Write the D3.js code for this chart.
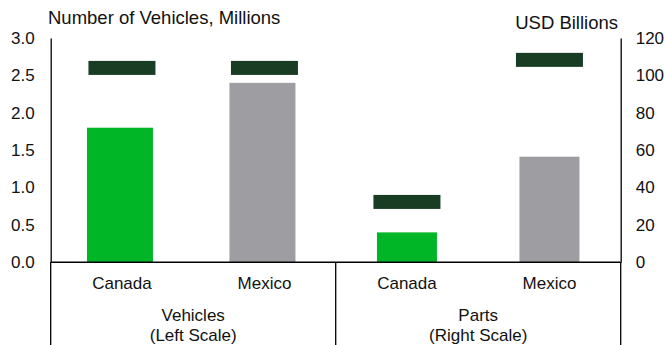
<!DOCTYPE html>
<html><head><meta charset="utf-8">
<script src="https://cdn.jsdelivr.net/npm/d3@7"></script>
<style>
html,body{margin:0;padding:0;background:#fff;}
svg{display:block;font-family:"Liberation Sans",Arial,sans-serif;}
</style></head>
<body>
<script>
// ---- data ----
const groups = ["Vehicles", "Parts"];
const groupSubLabels = ["(Left Scale)", "(Right Scale)"];
const categories = ["Canada", "Mexico", "Canada", "Mexico"];
const categoryGroup = [0, 0, 1, 1];
const barValues = [1.8, 2.4, 16, 56.5];
const markerValues = [2.6, 2.6, 32.3, 108.3];
const barColorKeys = ["canada", "mexico", "canada", "mexico"];
const leftTicks = [0, 0.5, 1.0, 1.5, 2.0, 2.5, 3.0];
const rightTicks = [0, 20, 40, 60, 80, 100, 120];
const leftTitle = "Number of Vehicles, Millions";
const rightTitle = "USD Billions";

// ---- styles ----
const W = 665, H = 345;
const x0 = 50.7, x1 = 620.7, yTop = 38, yBase = 262.3;
const colors = {canada: "#00b626", mexico: "#9e9da2", marker: "#183d23"};
const barWidthByGroup = [66, 60];
const barOffsetByGroup = [-2, 0];
const markerWidth = 67, markerThick = 14;

const svg = d3.select("body").append("svg").attr("width", W).attr("height", H);

const x = d3.scaleBand().domain(d3.range(categories.length)).range([x0, x1]).padding(0);
const yL = d3.scaleLinear().domain([0, 3]).range([yBase, yTop]);
const yR = d3.scaleLinear().domain([0, 120]).range([yBase, yTop]);
const yFor = i => categoryGroup[i] === 0 ? yL : yR;

// bars
svg.append("g").selectAll("rect").data(barValues).join("rect")
  .attr("x", (d, i) => x(i) + x.bandwidth() / 2 - barWidthByGroup[categoryGroup[i]] / 2 + barOffsetByGroup[categoryGroup[i]])
  .attr("width", (d, i) => barWidthByGroup[categoryGroup[i]])
  .attr("y", (d, i) => yFor(i)(d))
  .attr("height", (d, i) => yBase - yFor(i)(d))
  .attr("fill", (d, i) => colors[barColorKeys[i]]);

// markers
svg.append("g").selectAll("rect").data(markerValues).join("rect")
  .attr("x", (d, i) => x(i) + x.bandwidth() / 2 - markerWidth / 2)
  .attr("width", markerWidth)
  .attr("y", (d, i) => yFor(i)(d) - markerThick / 2)
  .attr("height", markerThick)
  .attr("fill", colors.marker);

// left axis
const gL = svg.append("g").attr("transform", `translate(${x0},0)`)
  .call(d3.axisLeft(yL).tickValues(leftTicks).tickFormat(d3.format(".1f")).tickSize(0).tickPadding(16));
gL.select(".domain").attr("stroke", "#000").attr("stroke-width", 1.3);
gL.selectAll("text").attr("font-size", 17).attr("fill", "#111").attr("font-family", null);

// right axis
const gR = svg.append("g").attr("transform", `translate(${x1},0)`)
  .call(d3.axisRight(yR).tickValues(rightTicks).tickFormat(d3.format("d")).tickSize(0).tickPadding(15));
gR.select(".domain").attr("stroke", "#000").attr("stroke-width", 1.3);
gR.selectAll("text").attr("font-size", 17).attr("fill", "#111").attr("font-family", null);

// baseline & dividers
svg.append("line").attr("x1", x0).attr("x2", x1).attr("y1", yBase).attr("y2", yBase)
  .attr("stroke", "#000").attr("stroke-width", 1.5);
const divX = [x0, x(2), x1];
svg.append("g").selectAll("line").data(divX).join("line")
  .attr("x1", d => d).attr("x2", d => d).attr("y1", yBase).attr("y2", H)
  .attr("stroke", "#000").attr("stroke-width", 1.3);

// category labels
svg.append("g").selectAll("text").data(categories).join("text")
  .attr("x", (d, i) => x(i) + x.bandwidth() / 2)
  .attr("y", 289)
  .attr("text-anchor", "middle").attr("font-size", 17).attr("fill", "#111")
  .text(d => d);

// group labels
const gx = gi => (x(gi * 2) + x(gi * 2 + 1) + x.bandwidth()) / 2;
svg.append("g").selectAll("text").data(groups).join("text")
  .attr("x", (d, i) => gx(i)).attr("y", 320.5)
  .attr("text-anchor", "middle").attr("font-size", 17).attr("fill", "#111")
  .text(d => d);
svg.append("g").selectAll("text").data(groupSubLabels).join("text")
  .attr("x", (d, i) => gx(i)).attr("y", 341)
  .attr("text-anchor", "middle").attr("font-size", 17).attr("fill", "#111")
  .text(d => d);

// titles
svg.append("text").attr("x", 48).attr("y", 24).attr("font-size", 18.5).attr("fill", "#111").text(leftTitle);
svg.append("text").attr("x", 618).attr("y", 28.5).attr("text-anchor", "end").attr("font-size", 18.5).attr("fill", "#111").text(rightTitle);
</script>
</body></html>
